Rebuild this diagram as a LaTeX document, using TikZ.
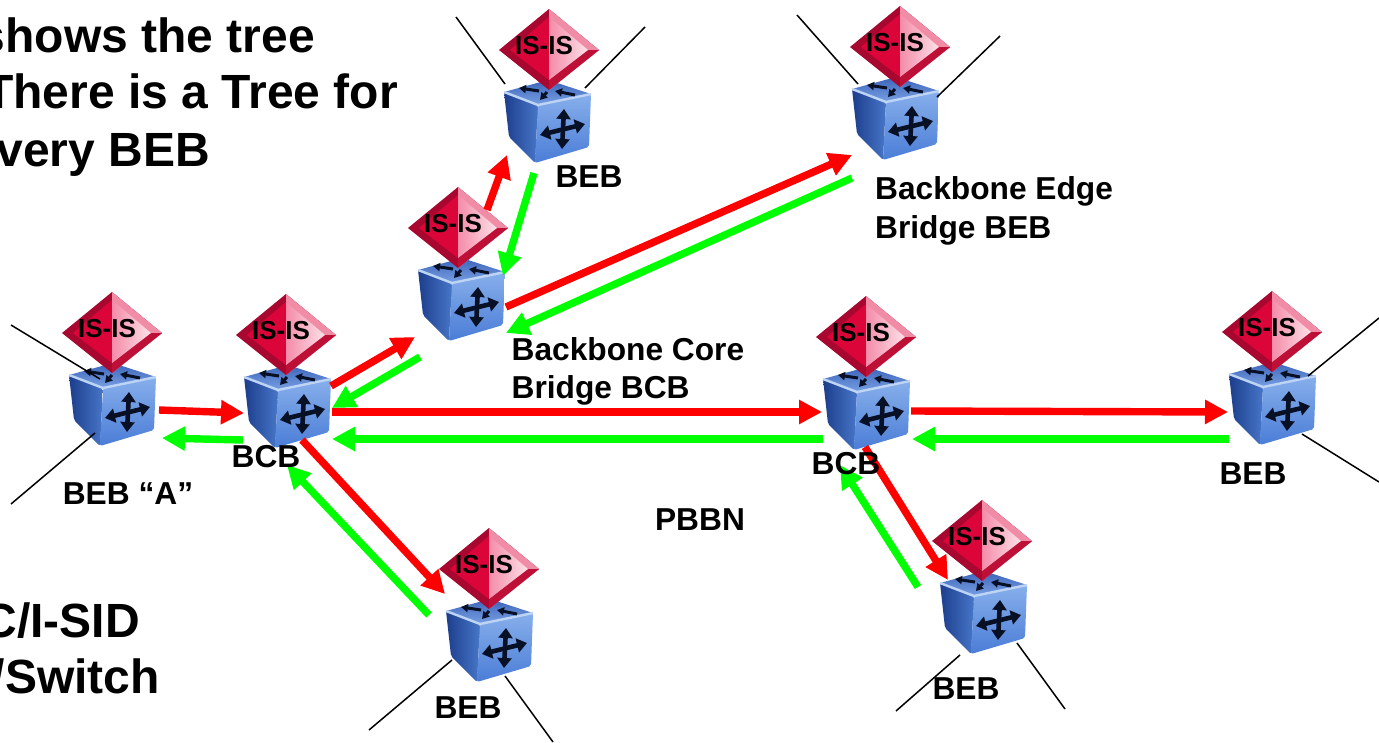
\documentclass[tikz,border=0pt]{standalone}
\usepackage{fontspec}
\setmainfont{Liberation Sans}
\usetikzlibrary{arrows.meta}
\definecolor{arrred}{RGB}{255,0,0}
\definecolor{arrgreen}{RGB}{0,255,0}
\definecolor{cubeLa}{RGB}{28,62,140}
\definecolor{cubeLb}{RGB}{72,118,200}
\definecolor{cubeRa}{RGB}{75,125,215}
\definecolor{cubeRb}{RGB}{135,175,235}
\definecolor{cubeTa}{RGB}{60,100,185}
\definecolor{cubeTb}{RGB}{120,160,228}
\definecolor{cubeHi}{RGB}{190,212,245}
\definecolor{glyphc}{RGB}{8,16,38}
\definecolor{diaEdge}{RGB}{168,8,48}
\definecolor{diaRight}{RGB}{240,140,165}
\definecolor{diaLow}{RGB}{190,15,55}
\definecolor{diaLeft}{RGB}{220,5,58}
\definecolor{diaPa}{RGB}{244,140,168}
\definecolor{diaPb}{RGB}{253,225,232}
\tikzset{
  x=1pt,y=-1pt,
  redarrow/.style={draw=arrred,line width=7.4pt,-{Triangle[length=23pt,width=23pt]}},
  greenarrow/.style={draw=arrgreen,line width=7.4pt,-{Triangle[length=23pt,width=23pt]}},
  wire/.style={draw=black,line width=1.5pt},
  lab/.style={font=\bfseries\fontsize{31.7}{38}\selectfont,inner sep=0pt,anchor=base},
  labl/.style={lab,anchor=base west},
  big/.style={font=\bfseries\fontsize{48}{56}\selectfont,inner sep=0pt,anchor=base east},
  glyph/.style={draw=glyphc,line width=4.6pt,{Triangle[length=10pt,width=14pt]}-{Triangle[length=10pt,width=14pt]}},
  small/.style={draw=glyphc,line width=3pt,-{Triangle[length=7pt,width=8pt]}},
  pics/isisicon/.style={code={
    \begin{scope}[shift={(#1,0)}]
    \shade[left color=cubeLa,right color=cubeLb,rounded corners=2pt]
      (-43,42) -- (-9,55) -- (-12,113) -- (-38,87) -- cycle;
    \shade[bottom color=cubeRa,top color=cubeRb,rounded corners=2pt]
      (-9,55) -- (44,44) -- (42,97) -- (-12,113) -- cycle;
    \shade[top color=cubeTa,bottom color=cubeTb,rounded corners=2pt]
      (1,30) -- (44,44) -- (-9,55) -- (-43,42) -- cycle;
    \draw[line width=2.4pt,draw=cubeHi,line join=round]
      (-43,42) -- (-9,55) -- (44,44);
    \draw[small] (-8,41) -- (-28,38);
    \draw[small] (0,42) -- (-7,50);
    \draw[small] (28,45) -- (8,41);
    \draw[glyph] (-7,85) -- (38,74);
    \draw[glyph] (17,59) -- (15,99);
    \end{scope}
    \fill[diaEdge] (0,-41) -- (-50,0) -- (0,40) -- (50,0) -- cycle;
    \fill[diaRight] (0,-41) -- (50,0) -- (0,40) -- cycle;
    \fill[diaLow] (0,40) -- (50,0) -- (38,0) -- (0,30) -- cycle;
    \fill[diaLeft] (0,-33) -- (-39,0) -- (0,30) -- cycle;
    \shade[left color=diaPa,right color=diaPb] (0,-33) -- (39,0) -- (0,30) -- cycle;
    \node[font=\bfseries\fontsize{26}{30}\selectfont,inner sep=0pt] (-tag) at (-5,-4) {IS-IS};
  }}
}
\begin{document}
\begin{tikzpicture}
\useasboundingbox (0,0) rectangle (1379,742);
\clip (0,0) rectangle (1379,742);
\fill[white] (0,0) rectangle (1379,742);

% free ends of the wires
\coordinate (wa1) at (11,325); \coordinate (wa2) at (100,379);
\coordinate (wa3) at (11,504); \coordinate (wa4) at (95,433);
\coordinate (wb1) at (456,17); \coordinate (wb2) at (505,84);
\coordinate (wb3) at (645,27); \coordinate (wb4) at (585,88);
\coordinate (wc1) at (797,15); \coordinate (wc2) at (858,84);
\coordinate (wc3) at (1000,36); \coordinate (wc4) at (937,97);
\coordinate (wd1) at (1379,318); \coordinate (wd2) at (1308,376);
\coordinate (wd3) at (1379,482); \coordinate (wd4) at (1302,434);
\coordinate (we1) at (369,730); \coordinate (we2) at (452,660);
\coordinate (we3) at (553,742); \coordinate (we4) at (505,676);
\coordinate (wf1) at (896,711); \coordinate (wf2) at (960,655);
\coordinate (wf3) at (1065,709); \coordinate (wf4) at (1017,643);

% icons
\pic (bebA) at (112,333) {isisicon=0};
\pic (bcbL) at (286,335) {isisicon=1};
\pic (bebT) at (549,50) {isisicon=-2};
\pic (bebE) at (900,47) {isisicon=-5};
\pic (bcbM) at (458,228) {isisicon=3};
\pic (bcbR) at (866,337) {isisicon=0};
\pic (bebR) at (1272,332) {isisicon=0};
\pic (bebB) at (489,569) {isisicon=0};
\pic (bebC) at (982,541) {isisicon=1};

% wires
\draw[wire] (wa1) -- (wa2); \draw[wire] (wa3) -- (wa4);
\draw[wire] (wb1) -- (wb2); \draw[wire] (wb3) -- (wb4);
\draw[wire] (wc1) -- (wc2); \draw[wire] (wc3) -- (wc4);
\draw[wire] (wd1) -- (wd2); \draw[wire] (wd3) -- (wd4);
\draw[wire] (we1) -- (we2); \draw[wire] (we3) -- (we4);
\draw[wire] (wf1) -- (wf2); \draw[wire] (wf3) -- (wf4);

% arrow ends
\coordinate (r1a) at (159,410); \coordinate (r1b) at (244,413);
\coordinate (r2a) at (331,386); \coordinate (r2b) at (415,337);
\coordinate (r3a) at (487,210); \coordinate (r3b) at (507,155);
\coordinate (r4a) at (506,307); \coordinate (r4b) at (852,155);
\coordinate (r5a) at (332,412); \coordinate (r5b) at (822,412);
\coordinate (r6a) at (911,411); \coordinate (r6b) at (1228,412);
\coordinate (r7a) at (302,440); \coordinate (r7b) at (445,594);
\coordinate (r8a) at (865,447); \coordinate (r8b) at (948,580);
\coordinate (g1a) at (243,440); \coordinate (g1b) at (162,438);
\coordinate (g2a) at (420,357); \coordinate (g2b) at (332,408);
\coordinate (g3a) at (534,173); \coordinate (g3b) at (503,276);
\coordinate (g4a) at (852,178); \coordinate (g4b) at (506,333);
\coordinate (g5a) at (823,439); \coordinate (g5b) at (332,439);
\coordinate (g6a) at (1229,439); \coordinate (g6b) at (912,439);
\coordinate (g7a) at (429,615); \coordinate (g7b) at (287,465);
\coordinate (g8a) at (918,587); \coordinate (g8b) at (840,465);

\foreach \i in {1,...,8}{
  \draw[redarrow] (r\i a) -- (r\i b);
  \draw[greenarrow] (g\i a) -- (g\i b);
}

% labels
\node[lab] (tA) at (128,504) {BEB “A”};
\node[lab] (tB) at (266,467) {BCB};
\node[lab] (tC) at (589,187) {BEB};
\node[labl] (tD) at (875,199) {Backbone Edge};
\node[labl] (tD2) at (875,238) {Bridge BEB};
\node[labl] (tE) at (511.5,360) {Backbone Core};
\node[labl] (tE2) at (511.5,398) {Bridge BCB};
\node[lab] (tF) at (846,474) {BCB};
\node[lab] (tG) at (1253,484) {BEB};
\node[lab] (tH) at (700,530) {PBBN};
\node[lab] (tI) at (468,718) {BEB};
\node[lab] (tJ) at (966,699) {BEB};
\node[big] (s1) at (315,52) {shows the tree};
\node[big] (s2) at (398,108) {There is a Tree for};
\node[big] (s3) at (210,166) {very BEB};
\node[big] (s4) at (140,637) {C/I-SID};
\node[big] (s5) at (160,693) {/Switch};
\end{tikzpicture}
\end{document}
